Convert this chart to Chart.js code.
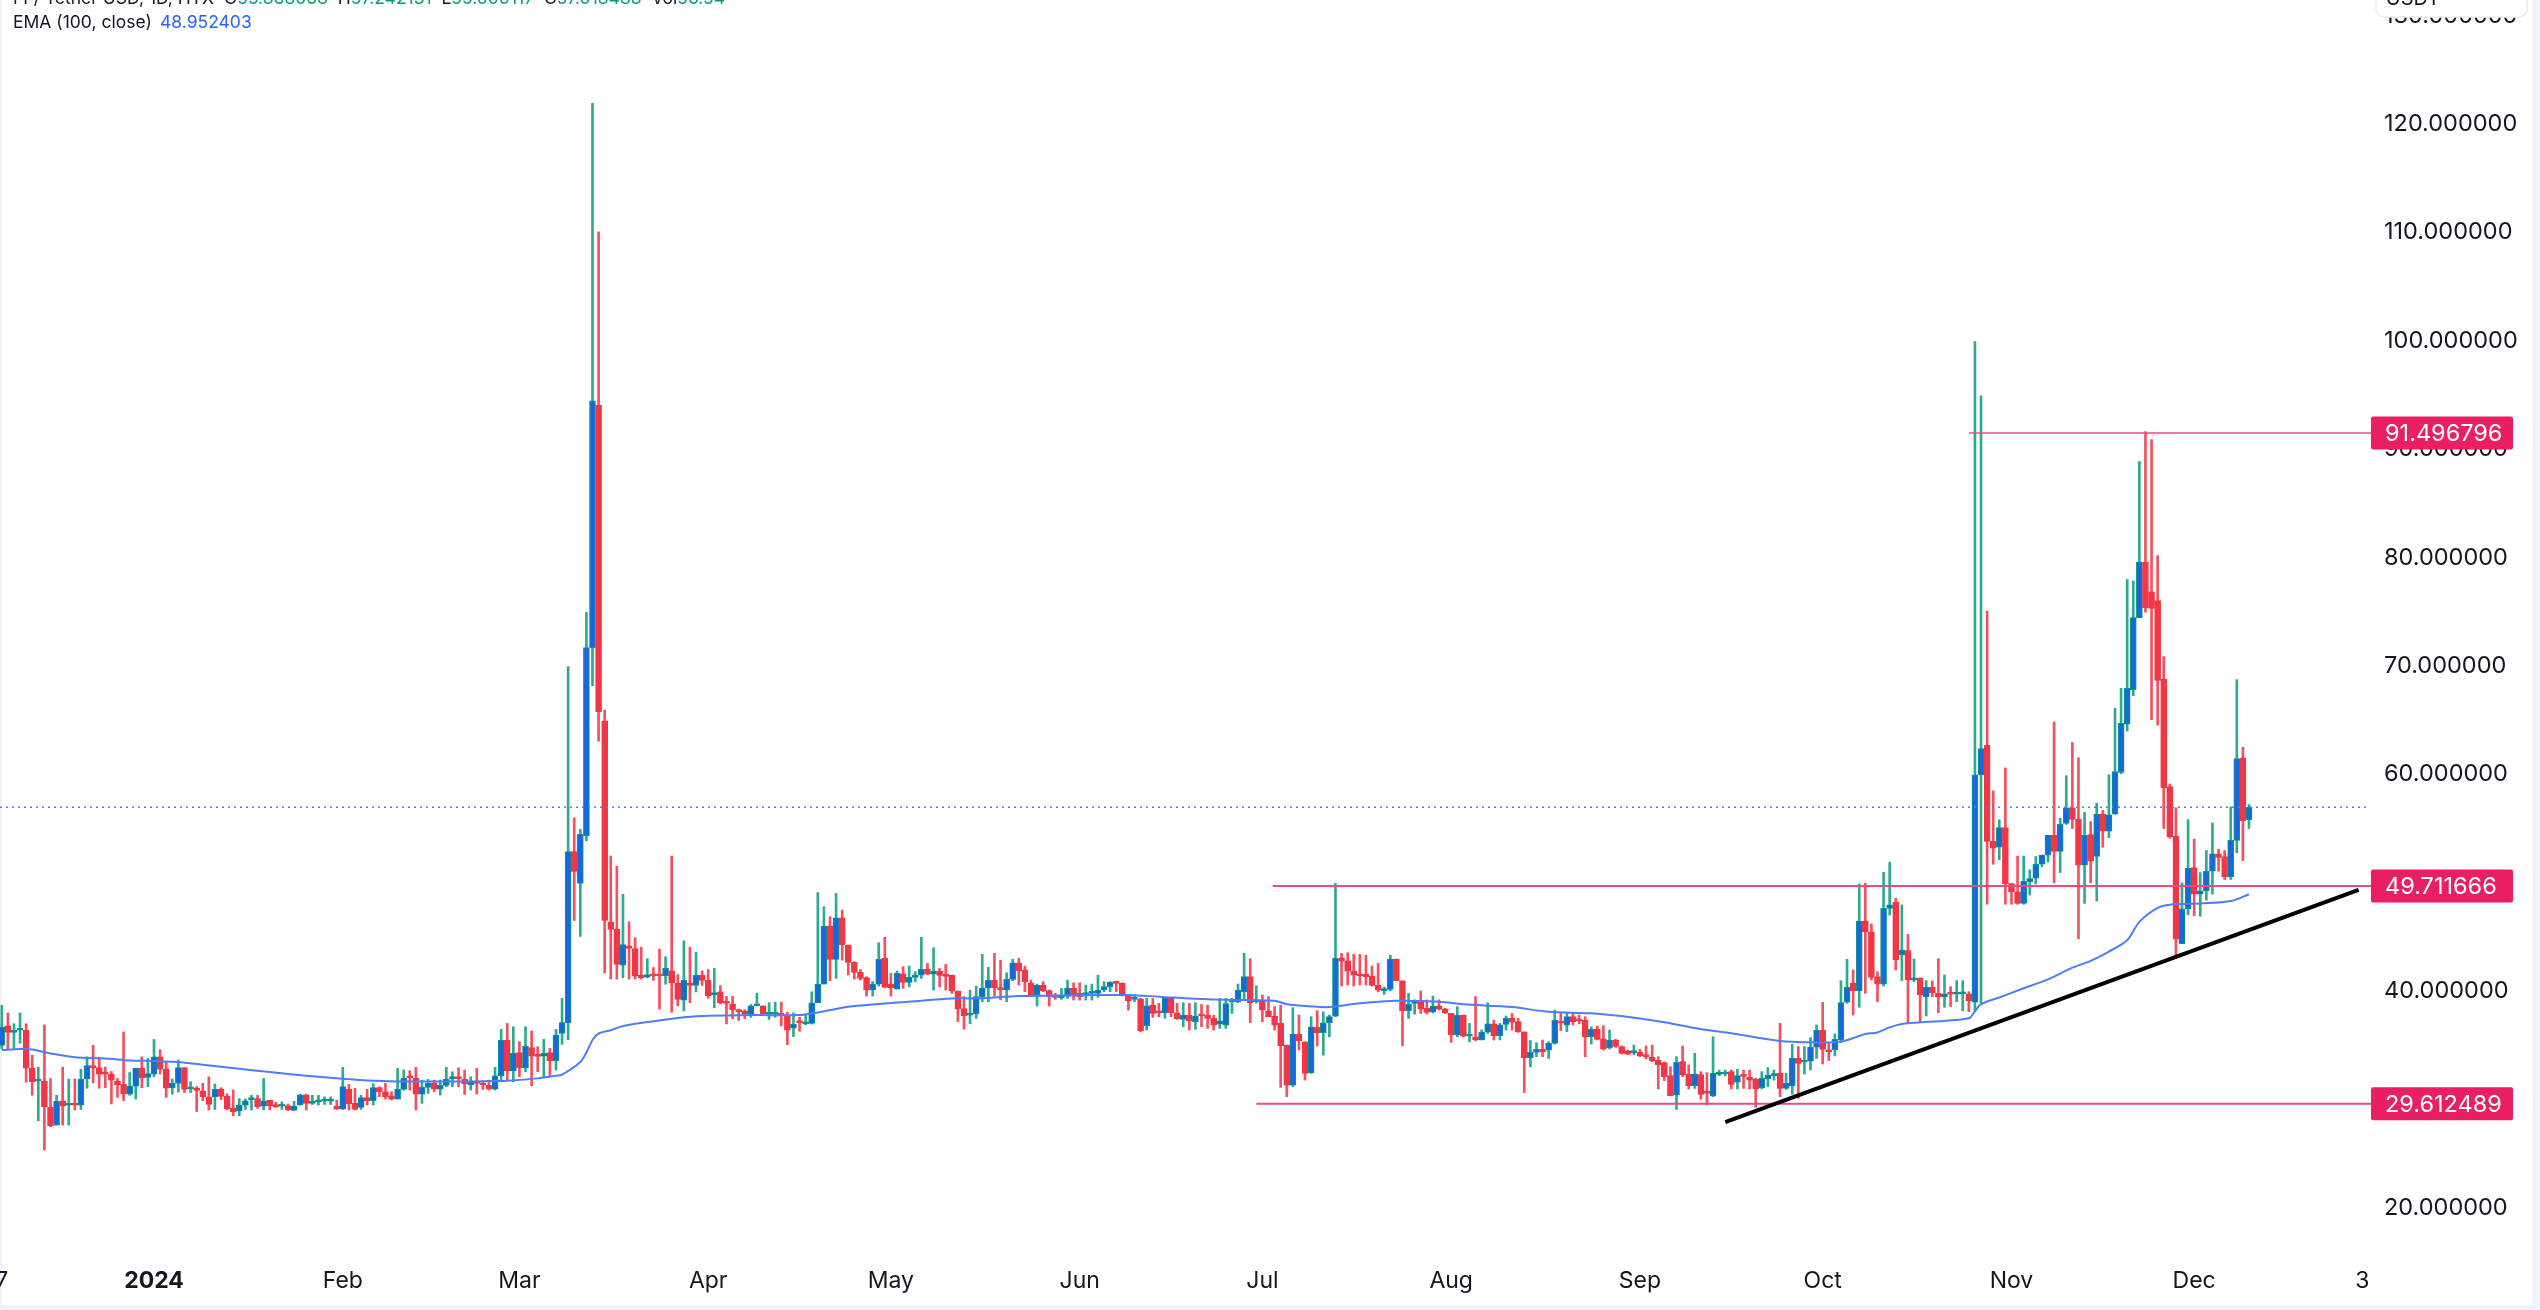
<!DOCTYPE html>
<html>
<head>
<meta charset="utf-8">
<title>Tether USD, 1D</title>
<script src="https://cdn.jsdelivr.net/npm/chart.js@4"></script>
<style>
  html, body { margin: 0; padding: 0; background: #fff; }
  #wrap { width: 2540px; height: 1310px; }
</style>
</head>
<body>
<div id="wrap"><canvas id="chart" width="2540" height="1310"></canvas></div>
<script>
// Daily candles, first one is 25 days before 1 Jan 2024
const firstDay = -25;

const opens = [
  35.0,36.8,36.2,36.4,36.4,32.9,31.7,31.7,29.3,27.65,
  29.9,29.5,29.6,29.5,31.9,33.15,32.95,32.4,32.35,31.7,
  31.4,30.5,31.25,32.9,32.05,32.35,33.95,32.85,31.1,31.5,
  32.95,31.0,31.0,30.8,30.25,30.25,30.95,30.3,29.2,28.95,
  29.5,30.0,30.1,29.4,29.95,29.55,29.4,29.45,29.0,29.5,
  30.45,29.65,29.8,29.85,29.85,29.4,29.13,30.95,29.65,29.28,
  30.18,29.9,31.1,30.73,30.36,30.05,30.94,32.11,31.96,30.51,
  31.13,31.5,30.97,31.31,31.93,32.02,31.9,31.37,31.65,31.44,
  31.31,30.97,32.2,35.46,32.64,34.33,32.94,34.79,34.05,34.02,
  34.33,33.59,36.1,37.1,52.88,49.95,54.35,71.7,94.06,64.94,
  46.41,45.7,42.41,44.18,43.94,41.47,41.3,41.53,41.53,41.41,
  41.88,40.76,39.18,40.76,40.53,41.47,41.0,39.65,39.94,39.06,
  38.82,38.3,38.18,37.82,38.65,38.65,37.88,37.88,37.88,37.7,
  36.6,37.24,37.0,37.03,38.94,40.66,46.04,42.94,46.78,44.26,
  42.66,41.74,41.25,40.11,40.66,43.03,40.66,40.2,41.6,40.81,
  41.28,41.49,42.04,41.58,41.86,41.49,41.46,40.02,38.4,37.8,
  37.9,39.5,40.3,41.03,40.26,40.11,41.09,42.63,41.95,40.75,
  39.65,40.57,40.05,39.55,39.4,39.55,40.26,39.8,39.68,39.8,
  39.8,40.11,40.42,40.85,40.72,39.65,39.25,39.28,36.82,38.72,
  38.1,38.0,39.43,38.0,37.4,37.77,37.19,37.86,37.77,37.5,
  36.97,36.88,39.03,39.03,39.95,41.34,39.03,39.09,38.2,37.71,
  37.03,35.03,31.34,36.05,35.34,32.48,36.66,36.17,37.09,37.71,
  43.09,42.8,41.86,41.55,41.55,41.4,40.54,40.05,40.17,42.97,
  40.97,38.2,38.88,39.13,38.42,38.1,38.66,38.38,37.95,35.96,
  37.8,35.86,35.8,35.5,36.23,37.0,35.9,36.94,37.52,37.2,
  36.26,33.87,34.36,34.63,34.57,35.19,37.2,36.88,37.65,37.43,
  37.34,35.8,36.48,35.6,34.8,35.5,34.9,34.49,34.33,34.36,
  34.09,33.9,33.63,33.41,32.21,30.43,33.5,32.33,31.29,32.3,
  30.73,30.34,32.33,32.36,32.58,31.6,32.24,32.09,31.87,31.1,
  31.9,32.21,32.43,31.04,31.26,33.81,33.47,33.54,34.83,36.39,
  34.58,34.58,35.5,38.98,40.73,40.05,46.48,45.47,41.34,40.64,
  47.65,48.2,43.37,43.74,41.04,41.19,39.5,40.36,39.81,39.47,
  39.81,39.72,39.77,39.75,39.0,59.97,62.68,53.83,53.28,55.1,
  49.93,49.17,48.11,50.1,50.44,51.71,52.56,54.38,52.9,55.48,
  56.92,55.86,51.62,54.46,52.43,56.33,54.76,56.33,60.18,64.63,
  67.81,74.46,79.59,76.84,76.03,68.78,58.87,54.29,44.38,47.6,
  51.41,48.95,49.25,51.07,52.68,52.43,50.56,53.91,61.54,55.82
];

const highs = [
  38.7,38.0,37.0,38.0,37.0,34.1,33.0,36.9,31.95,30.4,
  33.0,31.9,31.9,32.8,33.95,35.0,33.9,33.0,32.6,31.95,
  36.25,32.5,32.9,33.95,33.8,35.55,34.6,33.5,31.9,33.65,
  32.95,31.65,31.2,31.5,32.1,31.45,31.1,30.55,30.9,30.1,
  30.05,30.4,30.4,31.95,29.95,29.75,29.8,29.6,29.85,30.5,
  30.5,30.4,30.4,30.25,30.25,29.95,32.97,31.4,31.05,30.42,
  30.95,31.47,31.19,31.5,30.73,32.88,32.73,32.67,32.97,31.8,
  31.87,31.8,31.8,32.97,32.57,32.94,32.73,32.11,32.88,31.71,
  31.8,32.97,36.48,37.03,36.72,35.34,36.72,36.33,34.88,35.56,
  34.73,36.48,39.35,69.94,56.0,54.94,74.94,121.9,110.06,65.94,
  52.47,51.53,48.94,46.41,44.94,44.06,43.0,42.18,43.88,43.18,
  52.47,41.53,44.65,44.06,43.6,41.88,42.0,42.12,40.53,39.53,
  39.53,38.35,38.3,38.77,39.82,38.65,38.94,39.0,39.0,38.06,
  38.0,37.6,37.8,39.95,49.1,47.8,46.87,49.03,47.49,44.26,
  42.72,42.0,41.34,40.88,44.47,44.97,41.64,41.86,42.26,42.32,
  41.8,44.97,42.57,44.01,42.1,42.47,41.49,40.02,39.5,40.1,
  40.47,43.4,42.2,43.5,42.87,41.7,42.94,43.03,42.32,41.03,
  40.66,40.88,40.11,39.8,40.26,41.03,40.78,40.78,40.57,40.66,
  41.49,40.88,40.88,40.94,40.78,39.7,39.7,39.34,39.34,39.34,
  38.88,39.43,39.43,38.88,38.94,38.88,38.94,38.78,38.72,37.8,
  39.34,39.34,39.34,40.66,43.5,43.0,40.5,39.65,39.5,38.57,
  38.72,35.03,38.48,37.8,35.34,37.65,38.2,38.1,37.8,49.95,
  43.5,43.55,43.4,43.4,43.33,42.32,42.57,40.4,43.33,42.97,
  40.97,39.8,39.2,40.02,39.2,39.55,39.2,38.42,37.95,38.57,
  37.8,37.03,39.5,36.42,38.94,37.34,37.03,37.71,37.95,37.5,
  36.26,35.46,35.25,35.5,35.34,38.26,38.0,38.0,38.0,37.8,
  37.65,36.72,36.79,36.82,36.42,35.56,34.95,34.58,35.04,34.64,
  34.95,35.04,33.96,33.47,33.04,33.96,34.95,33.2,34.27,32.58,
  32.49,35.81,32.73,32.73,32.73,32.8,32.73,32.73,31.97,32.58,
  32.95,32.73,37.04,32.43,35.1,34.89,34.89,35.72,36.89,38.98,
  35.2,36.06,40.98,42.94,41.96,49.89,49.95,46.2,41.8,50.97,
  51.89,48.57,47.96,45.25,42.97,41.25,40.98,40.95,43.0,41.5,
  40.42,40.98,40.98,39.96,99.93,94.93,75.06,58.49,55.82,60.6,
  49.93,52.47,52.47,51.2,52.43,52.56,54.38,64.84,55.95,59.89,
  62.94,61.54,56.5,55.65,57.34,56.67,59.97,66.11,67.94,77.98,
  77.85,88.87,91.62,90.9,80.18,70.86,59.12,56.92,50.0,55.82,
  54.04,50.95,52.98,55.52,53.1,52.98,57.0,68.74,62.51,57.22
];

const lows = [
  34.7,34.6,34.6,35.2,31.6,30.4,28.05,25.35,27.5,27.65,
  27.65,27.65,29.05,29.1,31.05,31.55,31.05,31.1,29.6,30.2,
  29.9,30.4,30.05,31.1,31.2,32.1,32.35,30.2,30.5,30.7,
  30.65,30.65,28.9,29.9,29.05,29.1,30.0,29.05,28.5,28.5,
  29.1,29.05,29.2,29.05,29.05,29.3,29.1,29.0,29.0,29.5,
  29.04,29.55,29.5,29.55,29.55,29.1,29.1,29.04,29.04,29.1,
  29.5,29.5,30.27,30.05,29.96,30.05,30.88,30.88,29.04,29.65,
  30.58,30.73,30.42,31.19,31.19,31.19,30.48,30.88,30.51,30.94,
  30.88,30.88,31.65,31.8,31.65,32.11,32.57,31.28,32.57,32.11,
  32.11,32.73,35.1,35.53,46.53,45.06,53.88,68.18,63.06,41.7,
  41.12,41.12,41.24,41.12,41.12,41.12,41.24,41.0,38.35,40.65,
  38.06,38.65,38.18,38.94,39.94,40.53,39.35,38.47,38.82,36.98,
  37.47,37.3,37.47,37.6,38.65,37.88,37.4,37.6,36.8,35.06,
  35.82,36.3,36.9,36.97,38.94,40.66,40.97,41.18,42.87,41.49,
  41.12,41.03,39.55,39.55,40.48,40.35,39.55,40.2,40.26,40.4,
  40.88,41.18,41.55,40.11,40.4,40.11,39.8,37.2,36.5,37.0,
  37.5,39.03,39.03,39.55,39.2,39.03,40.97,40.57,39.95,39.55,
  38.63,39.95,38.63,39.25,39.25,39.34,39.18,39.18,39.18,39.18,
  39.43,39.95,39.95,39.95,39.55,38.26,39.03,36.26,36.42,37.59,
  37.65,37.5,37.65,37.4,36.72,36.42,36.48,36.72,36.57,36.42,
  36.57,36.57,37.95,38.94,39.18,37.09,38.9,37.19,37.65,36.42,
  31.13,30.27,31.19,34.57,31.8,32.42,34.95,34.1,35.8,37.65,
  40.48,40.57,40.48,40.57,40.57,40.48,39.95,39.7,40.05,40.97,
  34.97,37.5,37.89,37.95,37.89,38.0,38.26,37.95,35.28,35.8,
  35.8,35.34,35.43,35.5,36.1,35.5,35.5,36.42,36.42,36.2,
  30.64,33.03,33.96,33.96,33.8,35.13,36.36,36.26,36.88,36.99,
  33.96,35.13,35.5,34.58,34.67,34.82,34.2,34.15,34.12,33.96,
  33.75,33.5,30.98,31.75,30.37,29.1,32.12,30.98,31.04,30.03,
  29.5,30.27,32.21,32.18,30.98,30.98,31.04,30.98,29.29,30.98,
  31.2,31.8,30.27,30.95,30.49,30.12,32.36,32.73,33.81,33.29,
  33.6,34.03,35.25,38.88,37.81,38.52,39.8,41.04,39.04,40.48,
  47.03,41.96,40.98,37.04,40.88,37.13,37.72,39.5,38.02,38.52,
  38.58,39.04,38.2,38.12,38.15,38.91,48.02,51.71,52.13,48.02,
  48.02,48.02,48.02,48.87,49.89,51.5,51.92,50.0,50.95,55.39,
  55.01,44.84,48.1,50.0,48.32,53.28,54.16,56.33,60.06,64.0,
  67.26,74.46,74.97,65.06,64.55,55.01,54.12,43.02,44.38,47.05,
  46.96,46.92,48.4,48.95,51.07,50.31,50.31,52.77,52.05,55.01
];

const closes = [
  36.7,36.2,36.25,36.5,32.9,31.65,31.8,29.35,27.6,29.85,
  29.4,29.6,29.5,31.9,33.15,32.95,32.35,32.35,31.8,31.35,
  30.55,31.25,32.9,32.0,32.4,33.95,32.8,31.05,31.5,32.95,
  30.95,31.05,30.85,30.25,29.55,30.95,30.3,29.15,28.9,29.5,
  29.9,30.1,29.35,29.9,29.45,29.3,29.45,29.05,29.4,30.45,
  29.65,29.74,29.9,29.95,29.9,29.13,31.2,29.6,29.1,30.18,
  29.9,31.1,30.73,30.27,30.05,30.94,31.96,32.02,30.51,31.13,
  31.5,30.97,31.31,31.9,32.02,31.93,31.44,31.65,31.5,31.37,
  30.97,32.2,35.46,32.64,34.26,32.94,34.94,34.02,33.99,34.26,
  33.59,35.96,37.1,52.88,51.06,54.47,71.7,94.47,65.8,46.53,
  45.7,42.47,44.3,43.94,41.41,41.24,41.53,41.41,41.41,42.12,
  40.76,39.24,41.0,40.53,41.47,41.0,39.6,39.88,38.94,38.88,
  38.3,38.12,37.94,38.65,38.82,37.94,38.0,38.0,37.77,36.41,
  36.94,37.1,37.1,38.94,40.66,45.98,42.94,46.78,44.26,42.66,
  41.74,41.18,40.11,40.66,42.94,40.35,40.32,41.64,40.81,41.28,
  41.49,42.01,41.58,41.86,41.46,41.37,40.02,38.35,37.74,37.9,
  39.5,40.3,41.0,40.3,40.15,41.09,42.63,41.89,40.88,39.68,
  40.54,40.02,39.5,39.43,39.62,40.3,39.55,39.5,39.77,39.92,
  40.11,40.42,40.81,40.72,39.65,39.1,39.31,36.36,38.66,37.95,
  38.0,39.43,38.0,37.46,37.8,37.25,37.7,37.74,37.5,36.88,
  37.28,38.85,39.18,40.11,41.34,38.94,39.2,38.26,37.65,36.88,
  34.97,31.34,36.05,35.43,32.42,36.72,36.17,37.09,37.65,43.03,
  42.78,41.86,41.49,41.43,41.34,40.54,40.11,40.17,42.97,40.97,
  38.2,38.82,39.15,38.35,38.05,38.63,38.35,38.0,35.96,37.8,
  35.86,35.96,35.5,36.23,37.0,35.9,36.9,37.5,37.15,36.26,
  33.87,34.39,34.63,34.39,35.19,37.31,37.06,37.65,37.19,37.28,
  35.8,36.48,35.55,34.67,35.5,34.9,34.27,34.2,34.42,34.03,
  33.96,33.6,33.2,32.12,30.37,33.44,32.27,31.29,32.36,30.49,
  30.58,32.42,32.52,32.52,31.41,32.21,32.15,31.8,30.98,31.97,
  32.27,32.4,31.04,31.5,33.81,33.35,33.6,34.83,36.42,34.64,
  34.4,35.57,38.95,40.36,40.05,46.48,45.47,41.28,40.64,47.65,
  47.96,42.88,43.8,41.04,41.19,39.65,40.36,39.87,39.44,39.75,
  39.72,39.81,39.84,39.13,59.97,62.39,53.83,53.19,55.1,49.93,
  49.17,48.11,50.14,50.39,51.71,52.56,54.38,52.9,55.39,56.92,
  55.86,51.62,54.38,52.0,56.33,54.76,56.28,60.27,64.72,67.94,
  74.46,79.59,75.35,75.31,68.66,58.78,54.25,44.8,47.6,51.33,
  48.95,49.25,51.07,52.68,52.34,50.56,53.91,61.45,55.73,56.96
];

// EMA 100 at irregular days
const emaDays = [-25,-22,-20,-17,-13,-8,-4,0,4,8,14,19,25,31,35,40,46,52,56,58,63,66,67,70,71,72,73,75,77,83,89,98,106,108,111,114,119,124,131,135,142,148,156,160,165,173,180,184,186,190,193,198,204,211,215,223,229,236,243,248,255,259,267,272,277,281,283,285,287,292,298,299,300,303,307,311,315,318,321,324,326,329,331,336,341,344];
const emaValues = [34.57,34.66,34.63,34.26,33.9,33.8,33.62,33.56,33.47,33.22,32.85,32.54,32.2,31.93,31.77,31.68,31.68,31.68,31.71,31.74,31.96,32.2,32.3,33.47,34.35,35.5,36.1,36.4,36.8,37.3,37.7,37.8,37.8,37.95,38.26,38.57,38.82,39.03,39.34,39.34,39.55,39.6,39.65,39.65,39.5,39.25,39.18,39.12,38.8,38.6,38.54,38.88,39.12,39.03,38.8,38.54,38.1,37.96,37.56,37.13,36.42,36.12,35.41,35.29,35.35,36.06,36.2,36.67,36.98,37.2,37.5,38.15,38.8,39.42,40.27,41.1,42.17,42.8,43.66,44.7,46.4,47.68,47.98,48.1,48.32,48.95];

// horizontal levels: value and the day where they start
const levelValues = [91.496796, 49.711666, 29.612489];
const levelStarts = [298, 183.7, 181];
const lastPrice = 56.97;
const trendDays = [258, 362];
const trendValues = [27.93, 49.34];

const xTickDays = [-25, 0, 31, 60, 91, 121, 152, 182, 213, 244, 274, 305, 335, 362.6];
const xTickLabels = ["7", "2024", "Feb", "Mar", "Apr", "May", "Jun", "Jul", "Aug", "Sep", "Oct", "Nov", "Dec", "3"];
const yTicks = [20, 30, 40, 50, 60, 70, 80, 90, 100, 110, 120, 130];

const xMin = -25.29, xMax = 364.2;
const yMin = 15.39, yMax = 131.44;

const UP_WICK = "#2fa98f", DOWN_WICK = "#f4505f";
const UP_EDGE = "#089981", UP_FILL = "#1668dc", DOWN_FILL = "#f23645";
const EMA_BLUE = "#4d7ef7", LEVEL_PINK = "#ec4c82", TAG_PINK = "#e91e63";
const FONT = "Inter, 'Noto Sans', sans-serif";

const days = opens.map((_, i) => firstDay + i);
const isUp = i => closes[i] >= opens[i];

const wicks = days.map((d, i) => ({ x: d, y: [lows[i], highs[i]] }));
const bodies = days.map((d, i) => ({ x: d, y: [opens[i], closes[i]] }));

const levelSets = levelValues.map((v, i) => ({
  type: "line",
  data: [{ x: levelStarts[i], y: v }, { x: xMax, y: v }],
  borderColor: LEVEL_PINK,
  borderWidth: i === 0 ? 1.5 : 2,
  pointRadius: 0,
  order: 2
}));

// panel frame, price tags, USDT box and the legend lines
const overlay = {
  id: "overlay",
  beforeDraw(chart) {
    const c = chart.ctx;
    c.save();
    c.fillStyle = "#f0f3fa";
    c.fillRect(0, 0, 2, 1310);
    c.fillRect(2533, 0, 7, 1310);
    c.fillRect(0, 1305, 2540, 5);
    c.restore();
  },
  afterDraw(chart) {
    const c = chart.ctx;
    const y = chart.scales.y;
    c.save();
    levelValues.forEach(v => {
      const py = y.getPixelForValue(v);
      c.fillStyle = TAG_PINK;
      c.beginPath();
      c.roundRect(2371, py - 16.5, 142, 33, 2);
      c.fill();
      c.fillStyle = "#fff";
      c.font = "23.5px " + FONT;
      c.textAlign = "left";
      c.textBaseline = "middle";
      c.fillText(v.toFixed(6), 2385, py + 1);
    });

    // USDT box, cut by the top of the shot
    c.fillStyle = "#fff";
    c.strokeStyle = "#e9ecf2";
    c.lineWidth = 1.5;
    c.beginPath();
    c.roundRect(2376, -20, 151, 37, 8);
    c.fill();
    c.stroke();
    c.fillStyle = "#131722";
    c.font = "20px " + FONT;
    c.textAlign = "center";
    c.textBaseline = "alphabetic";
    c.fillText("USDT", 2413, 5);

    // legend
    c.textAlign = "left";
    c.font = "17.5px " + FONT;
    const parts = [
      ["FF/ Tether USD, 1D, HTX  O", "#131722"], ["55.868068", UP_EDGE],
      ["  H", "#131722"], ["57.242131", UP_EDGE],
      ["  L", "#131722"], ["55.000117", UP_EDGE],
      ["  C", "#131722"], ["57.018488", UP_EDGE],
      ["  Vol", "#131722"], ["56.54", UP_EDGE]
    ];
    let tx = 13;
    parts.forEach(p => {
      c.fillStyle = p[1];
      c.fillText(p[0], tx, 4);
      tx += c.measureText(p[0]).width;
    });
    c.fillStyle = "#131722";
    c.fillText("EMA (100, close)", 13, 28);
    c.fillStyle = "#2962ff";
    c.fillText("48.952403", 160, 28);
    c.restore();
  }
};

new Chart(document.getElementById("chart"), {
  data: {
    datasets: [
      {
        type: "bar",
        data: wicks,
        grouped: false,
        barThickness: 2,
        backgroundColor: wicks.map((_, i) => isUp(i) ? UP_WICK : DOWN_WICK),
        order: 5
      },
      {
        type: "bar",
        data: bodies,
        grouped: false,
        barThickness: 6,
        minBarLength: 2,
        borderWidth: 1,
        borderSkipped: false,
        backgroundColor: bodies.map((_, i) => isUp(i) ? UP_FILL : DOWN_FILL),
        borderColor: bodies.map((_, i) => isUp(i) ? UP_EDGE : DOWN_FILL),
        order: 4
      },
      {
        type: "line",
        data: emaDays.map((d, i) => ({ x: d, y: emaValues[i] })),
        borderColor: EMA_BLUE,
        borderWidth: 2,
        tension: 0.3,
        pointRadius: 0,
        order: 3
      },
      {
        type: "line",
        data: [{ x: xMin, y: lastPrice }, { x: 363.4, y: lastPrice }],
        borderColor: "#4d7ef7",
        borderWidth: 1.5,
        borderDash: [2, 4],
        pointRadius: 0,
        order: 3
      },
      ...levelSets,
      {
        type: "line",
        data: trendDays.map((d, i) => ({ x: d, y: trendValues[i] })),
        borderColor: "#000",
        borderWidth: 4,
        pointRadius: 0,
        order: 1
      }
    ]
  },
  options: {
    responsive: false,
    animation: false,
    layout: { padding: 0 },
    plugins: { legend: { display: false }, tooltip: { enabled: false } },
    scales: {
      x: {
        type: "linear",
        offset: false,
        min: xMin,
        max: xMax,
        grid: { display: false, drawTicks: false },
        border: { display: false },
        afterBuildTicks: s => { s.ticks = xTickDays.map(v => ({ value: v })); },
        afterFit: s => { s.height = 52; s.paddingLeft = 0; s.paddingRight = 0; },
        ticks: {
          autoSkip: false,
          maxRotation: 0,
          padding: 9,
          color: "#131722",
          font: c => ({
            family: FONT,
            size: 23,
            weight: c.tick && c.tick.value === 0 ? "bold" : "normal"
          }),
          callback: v => xTickLabels[xTickDays.indexOf(v)]
        }
      },
      y: {
        type: "linear",
        position: "right",
        min: yMin,
        max: yMax,
        grid: { display: false, drawTicks: false },
        border: { display: false },
        afterBuildTicks: s => { s.ticks = yTicks.map(v => ({ value: v })); },
        afterFit: s => { s.width = 168; s.paddingTop = 0; s.paddingBottom = 0; },
        ticks: {
          padding: 12,
          color: "#131722",
          font: { family: FONT, size: 23.5 },
          callback: v => v.toFixed(6)
        }
      }
    }
  },
  plugins: [overlay]
});
</script>
</body>
</html>
